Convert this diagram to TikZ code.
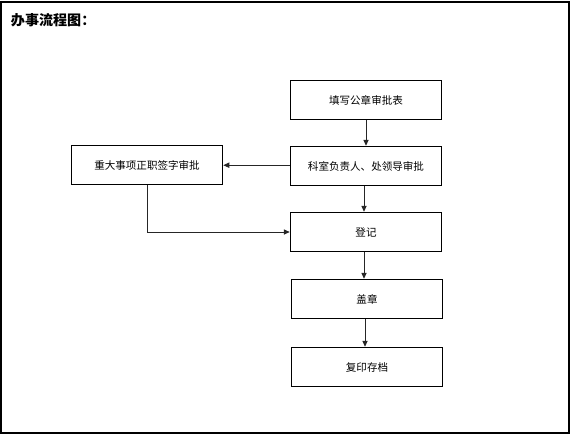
\documentclass[tikz,border=0pt]{standalone}
\usepackage{fontspec}
\newfontfamily\cjk{Noto Sans CJK SC}
\usetikzlibrary{arrows.meta, positioning}
\tikzset{
    box/.style={
        rectangle, draw=black, line width=0.9pt, minimum width=3.78cm, minimum height=0.98cm,
        inner sep=0pt, font=\cjk\fontsize{7.5}{9}\selectfont, align=center
    },
    arrow/.style={-{Triangle[length=1.5mm, width=1.3mm]}, line width=0.6pt, color=black!85},
    frame/.style={draw=black, line width=0.9pt},
}

\begin{document}
\begin{tikzpicture}[x=0.025cm, y=-0.025cm]
    \useasboundingbox (0,0) rectangle (571,437);
    \draw[frame] (1,2) rectangle (569,433);

    \node[anchor=west, font=\cjk\bfseries\fontsize{10}{12}\selectfont] (title) at (6,20) {办事流程图：};

    \node[box] (fill) at (366,100) {填写公章审批表};
    \node[box] (dept) at (366,166) {科室负责人、处领导审批};
    \node[box] (major) at (147,165) {重大事项正职签字审批};
    \node[box] (reg) at (366,232) {登记};
    \node[box] (seal) at (367,299) {盖章};
    \node[box] (copy) at (367,367) {复印存档};

    % vertical chain
    \draw[arrow] (fill.south) -- (dept.north);
    \draw[arrow] ([xshift=-0.05cm]dept.south) -- ([xshift=-0.05cm]dept.south |- reg.north);
    \draw[arrow] ([xshift=-0.05cm]reg.south) -- ([xshift=-0.05cm]reg.south |- seal.north);
    \draw[arrow] ([xshift=-0.05cm]seal.south) -- ([xshift=-0.05cm]seal.south |- copy.north);

    % side branch
    \draw[arrow] ([yshift=0.02cm]dept.west) -- ([yshift=0.02cm]dept.west -| major.east);
    \draw[arrow] (major.south) |- (reg.west);
\end{tikzpicture}
\end{document}
